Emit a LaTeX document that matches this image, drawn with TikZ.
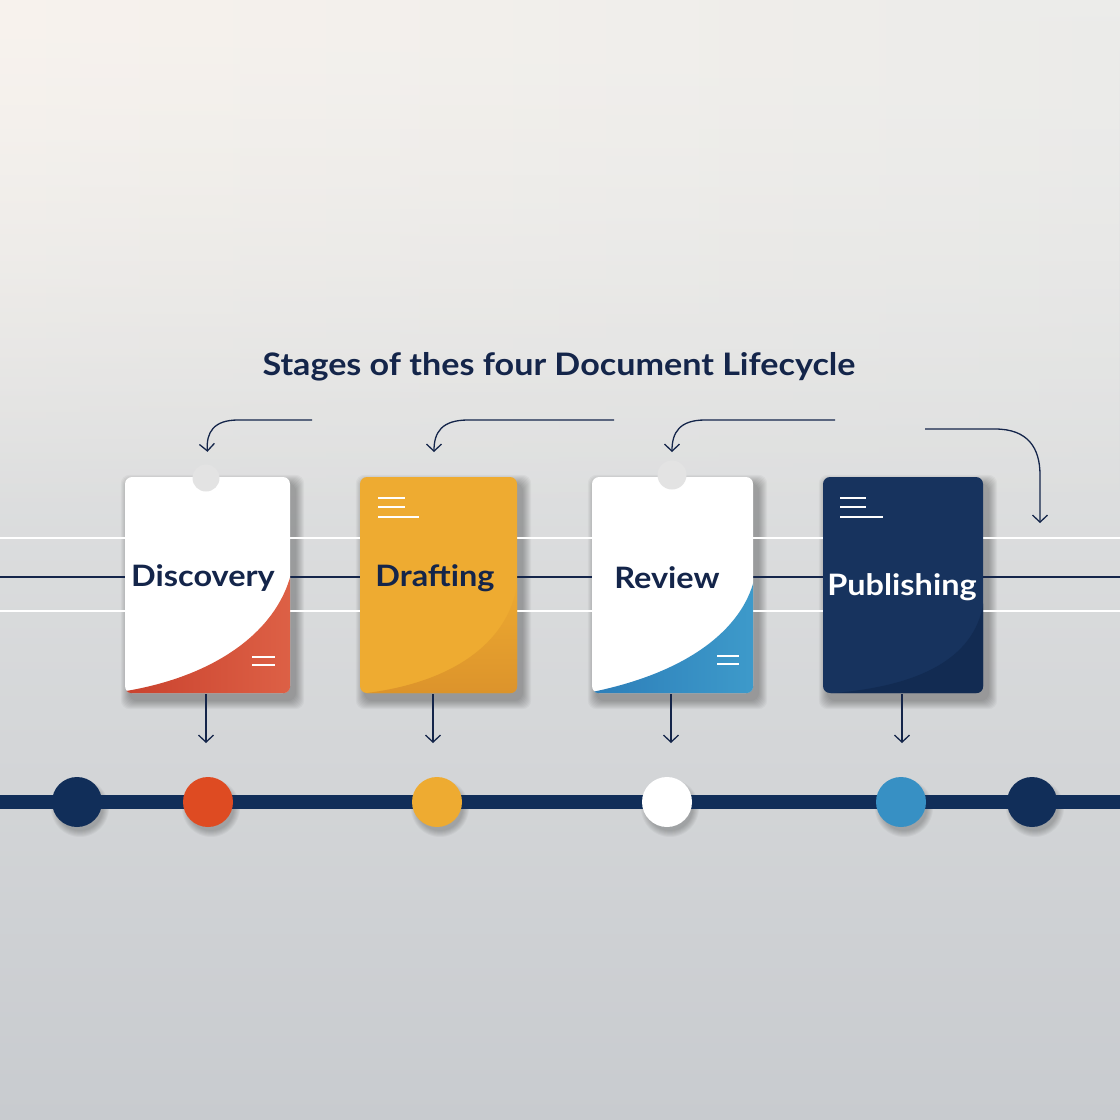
\documentclass[tikz,border=0pt]{standalone}
\usepackage{fontspec}
\setmainfont{Lato}[FakeStretch=1.1]
\usetikzlibrary{arrows.meta,fadings}

\definecolor{navy}{HTML}{14254A}
\definecolor{barnavy}{HTML}{112E59}
\definecolor{pubnavy}{HTML}{17335E}
\definecolor{pubfold}{HTML}{122B52}
\definecolor{discred}{HTML}{C9412D}
\definecolor{discred2}{HTML}{DE6247}
\definecolor{dotred}{HTML}{DE4B22}
\definecolor{draftorange}{HTML}{EEAB31}
\definecolor{draftfold}{HTML}{DB922B}
\definecolor{revblue}{HTML}{2C7DB8}
\definecolor{revblue2}{HTML}{3E9BCB}
\definecolor{dotblue}{HTML}{3790C4}
\definecolor{notchgrey}{HTML}{E3E3E3}
\definecolor{bgtop}{HTML}{ECECEA}
\definecolor{bgmid}{HTML}{DDDFE0}
\definecolor{bgbot}{HTML}{C8CBCF}
\definecolor{bgwarm}{HTML}{F8F3EE}

\tikzfading[name=fadedown,top color=transparent!0,bottom color=transparent!100]
\pgfdeclarelayer{bg}
\pgfdeclarelayer{shade}
\pgfsetlayers{bg,shade,main}

\tikzset{
  card/.style={minimum width=162pt,minimum height=216pt,inner sep=0pt,rounded corners=7pt},
  stagetext/.style={font=\fontsize{29.5}{34}\selectfont\bfseries,text=navy},
  flow/.style={->,navy,line width=1.3pt},
  dot/.style={circle,minimum size=50pt,inner sep=0pt},
  menuline/.style={white,line width=2pt},
  softshade/.style={black,opacity=0.035},
}

\begin{document}
\begin{tikzpicture}[>={Straight Barb[length=7pt,width=15pt]},x=1pt,y=-1pt]
\useasboundingbox (0,0) rectangle (1120,1120);
\begin{pgfonlayer}{bg}
\shade[top color=bgtop,middle color=bgmid,bottom color=bgbot] (0,0) rectangle (1120,1120);
\shade[left color=bgwarm,right color=bgtop,path fading=fadedown] (0,0) rectangle (1120,520);
\end{pgfonlayer}

% guide lines
\coordinate (gw1) at (0,538);  \coordinate (ge1) at (1120,538);
\coordinate (gw2) at (0,577);  \coordinate (ge2) at (1120,577);
\coordinate (gw3) at (0,611);  \coordinate (ge3) at (1120,611);
\draw[white,line width=1.6pt] (gw1) -- (ge1);
\draw[white,line width=1.6pt] (gw3) -- (ge3);
\draw[navy,line width=1.2pt] (gw2) -- (ge2);

\node[stagetext,font=\fontsize{31}{36}\selectfont\bfseries] (title) at (559,367) {Stages of thes four Document Lifecycle};

% cards
\node[card,fill=white,minimum width=165pt] (disc) at (207.5,585) {};
\node[card,fill=draftorange,minimum width=157pt] (draft) at (438.5,585) {};
\node[card,fill=white,minimum width=161pt] (rev) at (672.5,585) {};
\node[card,fill=pubnavy,minimum width=160pt] (pub) at (903,585) {};

\begin{pgfonlayer}{shade}
\foreach \c in {disc,draft,rev,pub}
  \foreach \s in {1,...,9}
    \fill[softshade,rounded corners=9pt] ([xshift=5pt-\s pt,yshift=-7pt-\s pt]\c.south west)
      rectangle ([xshift=5pt+\s pt,yshift=-7pt+\s pt]\c.north east);
\end{pgfonlayer}

\begin{scope}
  \clip[rounded corners=7pt] (disc.south west) rectangle (disc.north east);
  \shade[left color=discred,right color=discred2] (120,700) -- (126,691)
    .. controls (215,676) and (276,632) .. (291,574) -- (300,574) -- (300,700) -- cycle;
\end{scope}
\begin{scope}
  \clip[rounded corners=7pt] (draft.south west) rectangle (draft.north east);
  \shade[top color=draftorange,bottom color=draftfold] (358,694)
    .. controls (455,684) and (512,640) .. (518,578) -- (520,700) -- (358,700) -- cycle;
\end{scope}
\begin{scope}
  \clip[rounded corners=7pt] (rev.south west) rectangle (rev.north east);
  \shade[left color=revblue,right color=revblue2] (585,700) -- (592,692)
    .. controls (690,672) and (742,628) .. (754,580) -- (760,580) -- (760,700) -- cycle;
\end{scope}
\begin{scope}
  \clip[rounded corners=7pt] (pub.south west) rectangle (pub.north east);
  \fill[pubfold] (820,694) .. controls (925,688) and (978,655) .. (984,598) -- (990,700) -- (820,700) -- cycle;
\end{scope}

\node[circle,fill=notchgrey,minimum size=27pt,inner sep=0pt] (disc-notch) at (206,478) {};
\node[circle,fill=notchgrey,minimum size=29pt,inner sep=0pt] (rev-notch) at (672,475) {};

% menu marks
\draw[menuline] (252,657) -- (275,657) (252,665) -- (275,665);
\draw[menuline] (717,656) -- (739,656) (717,664) -- (739,664);
\draw[menuline] (378,498) -- (405,498) (378,507) -- (405,507) (378,517) -- (419,517);
\draw[menuline] (840,498) -- (866,498) (840,507) -- (866,507) (840,517) -- (883,517);

\node[stagetext] (disc-txt) at (203,578) {Discovery};
\node[stagetext] (draft-txt) at (435,578) {Drafting};
\node[stagetext] (rev-txt) at (667,578) {Review};
\node[stagetext,text=white] (pub-txt) at (902,587) {Publishing};

% arrows above
\coordinate (a1) at (312,420);
\coordinate (a2) at (614,420);
\coordinate (a3) at (835,420);
\coordinate (a4) at (925,429);
\coordinate (a4end) at (1040,523);
\draw[flow] (a1) -- (238,420) .. controls (214,420) and (206,432) .. ([yshift=25pt]disc.north);
\draw[flow] (a2) -- (468,420) .. controls (442,420) and (434,432) .. (434,452);
\draw[flow] (a3) -- (705,420) .. controls (680,420) and (672,432) .. (672,452);
\draw[flow] (a4) -- (995,429) .. controls (1028,429) and (1040,448) .. (1040,475) -- (a4end);

% arrows below
\draw[flow] (206,694) -- (206,743);
\draw[flow] (433,694) -- (433,743);
\draw[flow] (671,694) -- (671,743);
\draw[flow] (902,694) -- (902,743);

% timeline
\coordinate (tl-w) at (0,802);
\coordinate (tl-e) at (1120,802);
\draw[barnavy,line width=14pt] (tl-w) -- (tl-e);
\node[dot,fill=barnavy] (d0) at (77,802) {};
\node[dot,fill=dotred] (d1) at (208,802) {};
\node[dot,fill=draftorange] (d2) at (437,802) {};
\node[dot,fill=white] (d3) at (667,802) {};
\node[dot,fill=dotblue] (d4) at (901,802) {};
\node[dot,fill=barnavy] (d5) at (1032,802) {};

\begin{pgfonlayer}{shade}
\foreach \d in {d0,d1,d2,d3,d4,d5}
  \foreach \s in {1,...,7}
    \fill[softshade] ([xshift=3pt,yshift=-6pt]\d.center) circle (22pt+\s pt);
\end{pgfonlayer}
\end{tikzpicture}
\end{document}
